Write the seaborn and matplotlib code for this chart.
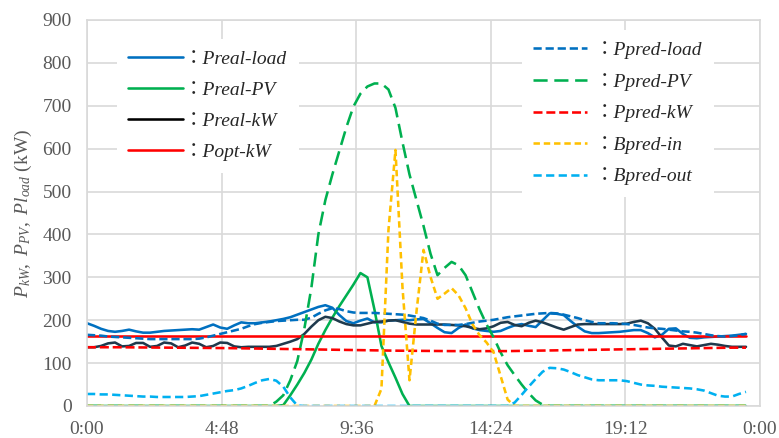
import numpy as np
import matplotlib
matplotlib.use("Agg")
import matplotlib.pyplot as plt
import seaborn as sns
from matplotlib.lines import Line2D
from matplotlib.font_manager import FontProperties

# ---------------- data (kW), 15-minute steps from 0:00 to 23:30 ----------------
time_h = np.arange(0, 23.51, 0.25)

preal_load = [
    193, 187, 180, 175,  173, 175, 178, 174,  171, 171, 173, 175,  176, 177, 178, 179,
    178, 184, 190, 183,  180, 188, 195, 193,  193, 195, 197, 200,  203, 207, 213, 219,
    225, 231, 235, 229,  212, 198, 193, 199,  204, 195, 195, 199,  200, 201, 200, 202,
    203, 193, 182, 172,  170, 182, 190, 181,  177, 175, 173, 175,  182, 188, 191, 187,
    184, 200, 216, 215,  212, 198, 185, 174,  170, 170, 171, 172,  173, 175, 177, 177,
    170, 160, 166, 180,  181, 168, 159, 158,  160, 161, 162, 163,  164, 166, 168]

preal_pv = [
    0, 0, 0, 0,  0, 0, 0, 0,  0, 0, 0, 0,  0, 0, 0, 0,
    0, 0, 0, 0,  0, 0, 0, 0,  0, 0, 0, 0,  2, 25, 50, 77,
    108, 145, 177, 206,  233, 258, 283, 310,  300, 225, 140, 102,  66, 28, 0, 0,
    0, 0, 0, 0,  0, 0, 0, 0,  0, 0, 0, 0,  0, 0, 0, 0,
    0, 0, 0, 0,  0, 0, 0, 0,  0, 0, 0, 0,  0, 0, 0, 0,
    0, 0, 0, 0,  0, 0, 0, 0,  0, 0, 0, 0,  0, 0, 0]

preal_kw = [
    137, 137, 140, 146,  148, 139, 140, 147,  147, 138, 140, 148,  146, 137, 141, 148,
    145, 137, 140, 148,  147, 139, 137, 138,  138, 138, 138, 140,  145, 150, 156, 168,
    185, 200, 208, 205,  197, 191, 188, 188,  192, 196, 197, 199,  200, 196, 192, 190,
    190, 190, 190, 190,  189, 188, 186, 182,  179, 181, 186, 194,  196, 189, 186, 194,
    199, 195, 189, 183,  178, 184, 190, 191,  191, 191, 191, 191,  191, 192, 196, 199,
    193, 180, 160, 141,  139, 145, 142, 139,  142, 145, 143, 140,  138, 138, 138]

popt_time = [0, 23.5]
popt_kw = [163, 163]

ppred_load = [
    166, 165, 164, 162,  161, 160, 159, 158,  157, 156, 156, 156,  156, 156, 156, 156,
    157, 160, 164, 168,  172, 176, 180, 186,  191, 194, 196, 198,  199, 200, 201, 201,
    206, 215, 223, 228,  226, 221, 218, 217,  217, 217, 216, 215,  214, 213, 211, 208,
    205, 199, 192, 189,  189, 189, 191, 194,  197, 199, 201, 204,  207, 209, 211, 213,
    215, 216, 217, 216,  213, 209, 205, 200,  196, 193, 193, 193,  192, 191, 189, 186,
    183, 181, 180, 178,  176, 174, 173, 171,  168, 165, 163, 162,  163, 165, 168]

ppred_pv = [
    0, 0, 0, 0,  0, 0, 0, 0,  0, 0, 0, 0,  0, 0, 0, 0,
    0, 0, 0, 0,  0, 0, 0, 0,  0, 0, 0, 10,  25, 60, 105, 180,
    275, 400, 480, 540,  595, 650, 698, 728,  745, 752, 752, 738,  695, 615, 540, 480,
    420, 355, 305, 322,  336, 328, 305, 265,  225, 190, 160, 125,  95, 72, 50, 30,
    13, 3, 0, 0,  0, 0, 0, 0,  0, 0, 0, 0,  0, 0, 0, 0,
    0, 0, 0, 0,  0, 0, 0, 0,  0, 0, 0, 0,  0, 0, 0]

ppred_kw_time = [0, 1, 2, 3, 4, 5, 6, 7, 8, 9, 10, 11, 12, 13, 14, 15, 16, 17, 18, 19,
                 20, 21, 22, 23, 23.5]
ppred_kw = [137, 137, 136.5, 136, 135.5, 135, 134, 133, 132, 131, 130, 129, 128.5, 128,
            128, 128, 129, 130, 131, 132, 133, 134, 135, 136, 136]

bpred_in = [
    0, 0, 0, 0,  0, 0, 0, 0,  0, 0, 0, 0,  0, 0, 0, 0,
    0, 0, 0, 0,  0, 0, 0, 0,  0, 0, 0, 0,  0, 0, 0, 0,
    0, 0, 0, 0,  0, 0, 0, 0,  0, 0, 40, 410,  597, 277, 60, 220,
    364, 301, 250, 262,  275, 258, 228, 190,  165, 148, 125, 70,  15, 0, 0, 0,
    0, 0, 0, 0,  0, 0, 0, 0,  0, 0, 0, 0,  0, 0, 0, 0,
    0, 0, 0, 0,  0, 0, 0, 0,  0, 0, 0, 0,  0, 0, 0]

bpred_out = [
    28, 28, 27, 27,  26, 25, 24, 23,  22, 22, 21, 21,  21, 21, 21, 22,
    23, 26, 29, 32,  35, 37, 41, 47,  54, 60, 63, 59,  45, 20, 1, 0,
    0, 0, 0, 0,  0, 0, 0, 0,  0, 0, 0, 0,  0, 0, 0, 0,
    0, 0, 0, 0,  0, 0, 0, 0,  0, 0, 0, 0,  0, 8, 26, 45,
    63, 80, 89, 88,  85, 79, 72, 67,  62, 60, 60, 60,  60, 58, 54, 50,
    48, 47, 45, 44,  43, 42, 41, 39,  36, 30, 24, 22,  22, 28, 33]

xtick_pos = [0, 4.8, 9.6, 14.4, 19.2, 24]
xtick_labels = ["0:00", "4:48", "9:36", "14:24", "19:12", "0:00"]
ytick_pos = [0, 100, 200, 300, 400, 500, 600, 700, 800, 900]

labels_real = ["Preal-load", "Preal-PV", "Preal-kW", "Popt-kW"]
labels_pred = ["Ppred-load", "Ppred-PV", "Ppred-kW", "Bpred-in", "Bpred-out"]

# ---------------- style ----------------
sns.set_style("white")
plt.rcParams["font.family"] = ["Liberation Serif", "Noto Sans CJK JP"]
plt.rcParams["mathtext.fontset"] = "custom"
plt.rcParams["mathtext.rm"] = "Liberation Serif"
plt.rcParams["mathtext.it"] = "Liberation Serif:italic"

GRID = "#D9D9D9"
TXT = "#595959"
LW = 1.85

fig = plt.figure(figsize=(7.79, 4.38), dpi=100)
ax = fig.add_axes([87 / 779, 32 / 438, 673 / 779, 386 / 438])

series = [
    (time_h, preal_load, "#0070C0", "-"),
    (time_h, preal_pv, "#00B050", "-"),
    (time_h, preal_kw, "#1F3A4D", "-"),
    (popt_time, popt_kw, "#FF0000", "-"),
    (time_h, ppred_load, "#0070C0", (0, (3.2, 1.5))),
    (time_h, ppred_pv, "#00B050", (0, (5.5, 2.6))),
    (ppred_kw_time, ppred_kw, "#FF0000", (0, (3.5, 1.5))),
    (time_h, bpred_in, "#FFC000", (0, (2.5, 1.5))),
    (time_h, bpred_out, "#00B0F0", (0, (3.2, 1.7))),
]
for x, y, c, ls in series:
    sns.lineplot(x=list(x), y=y, ax=ax, color=c, linestyle=ls, linewidth=LW,
                 estimator=None)

ax.set_xlim(0, 24)
ax.set_ylim(0, 900)
ax.set_xticks(xtick_pos)
ax.set_xticklabels(xtick_labels)
ax.set_yticks(ytick_pos)
ax.tick_params(length=0, labelsize=14, colors=TXT)
ax.tick_params(axis="x", pad=11)
ax.tick_params(axis="y", pad=11)
ax.grid(True, color=GRID, linewidth=1.2)
ax.set_axisbelow(True)
for s in ax.spines.values():
    s.set_color(GRID)
    s.set_linewidth(1.2)
ax.set_xlabel("")
ax.set_ylabel(r"$P_{kW},\ P_{PV},\ Pl_{oad}$ (kW)", fontsize=14, color=TXT, labelpad=6)

# ---------------- legends ----------------
fp = FontProperties(family=["Liberation Serif", "Noto Sans CJK JP"], style="italic", size=14)

h1 = [Line2D([], [], color=c, lw=LW, ls="-") for c in ["#0070C0", "#00B050", "#000000", "#FF0000"]]
leg1 = ax.legend(h1, ["：" + l for l in labels_real], loc="upper left",
                 bbox_to_anchor=(0.0296, 0.977), prop=fp, handlelength=2.8,
                 handletextpad=0.05, labelspacing=0.69, borderpad=0.6,
                 frameon=True, facecolor="white", edgecolor="none", framealpha=1)
ax.add_artist(leg1)

h2 = [Line2D([], [], color=c, lw=LW, ls=ls) for _, _, c, ls in series[4:]]
leg2 = ax.legend(h2, ["：" + l for l in labels_pred], loc="upper left",
                 bbox_to_anchor=(0.6316, 1.0), prop=fp, handlelength=2.75,
                 handletextpad=0.4, labelspacing=0.70, borderpad=0.6,
                 frameon=True, facecolor="white", edgecolor="none", framealpha=1)

fig.savefig("out.png", dpi=100)
